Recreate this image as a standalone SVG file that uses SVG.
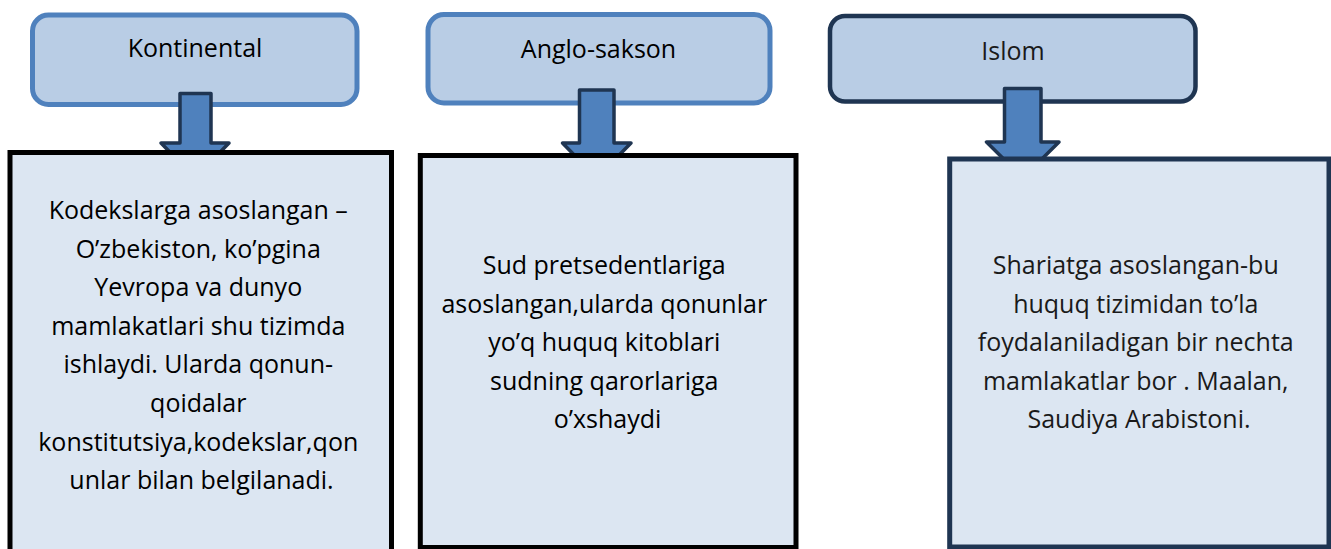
<svg xmlns="http://www.w3.org/2000/svg" width="1331" height="549" viewBox="0 0 1331 549">
<style>
.bg{fill:#ffffff}
.head{fill:#B9CDE5;stroke:#4F81BD;stroke-width:5}
.head.dark{stroke:#1F3552;stroke-width:4.5}
.arrow{fill:#4F81BD;stroke:#1F3552;stroke-width:3.5;stroke-linejoin:round}
.body{fill:#DCE6F2;stroke:#000000;stroke-width:5}
.body.dark{stroke:#1F3552}
text{font-family:"Open Sans","Noto Sans",sans-serif;font-size:25px;fill:#000000;text-anchor:middle}
.t3{fill:#1a1a1a}
</style>
<rect class="bg" x="0" y="0" width="1331" height="549"/>
<g id="node-kontinental">
<rect class="head" x="32.5" y="15" width="324.5" height="89.5" rx="16"/>
<text x="195" y="57">Kontinental</text>
</g>
<g id="node-anglo-sakson">
<rect class="head" x="428" y="14.5" width="342" height="88.5" rx="16"/>
<text x="598.5" y="58">Anglo-sakson</text>
</g>
<g id="node-islom">
<rect class="head dark" x="830" y="16" width="365.5" height="85.5" rx="15"/>
<text class="t3" x="1013" y="60">Islom</text>
</g>
<g id="connectors">
<path class="arrow" d="M180,93.5 H211 V143 H229 L195,178 L161,143 H180 Z"/>
<path class="arrow" d="M579.5,90 H614 V143 H631 L596.7,178 L562.5,143 H579.5 Z"/>
<path class="arrow" d="M1004.5,88.5 H1041 V142 H1059 L1022.7,178 L986.5,142 H1004.5 Z"/>
</g>
<g id="node-kontinental-desc">
<rect class="body" x="10" y="152.5" width="381.5" height="410"/>
<text x="201.5">
<tspan x="201.5" y="219">Kodekslarga asoslangan –</tspan>
<tspan x="201.5" y="257.6">O’zbekiston, ko’pgina</tspan>
<tspan x="201.5" y="296.2">Yevropa va dunyo</tspan>
<tspan x="201.5" y="334.8">mamlakatlari shu tizimda</tspan>
<tspan x="201.5" y="373.4">ishlaydi. Ularda qonun-</tspan>
<tspan x="201.5" y="412">qoidalar</tspan>
<tspan x="201.5" y="450.6">konstitutsiya,kodekslar,qon</tspan>
<tspan x="201.5" y="489.2">unlar bilan belgilanadi.</tspan>
</text>
</g>
<g id="node-anglo-sakson-desc">
<rect class="body" x="420.3" y="155.5" width="375.7" height="392"/>
<text x="607.5">
<tspan x="607.5" y="274">Sud pretsedentlariga</tspan>
<tspan x="607.5" y="312.5">asoslangan,ularda qonunlar</tspan>
<tspan x="607.5" y="351">yo’q huquq kitoblari</tspan>
<tspan x="607.5" y="389.5">sudning qarorlariga</tspan>
<tspan x="607.5" y="428">o’xshaydi</tspan>
</text>
</g>
<g id="node-islom-desc">
<rect class="body dark" x="949.7" y="159" width="379.3" height="388"/>
<text class="t3" x="1139">
<tspan x="1139" y="274">Shariatga asoslangan-bu</tspan>
<tspan x="1139" y="312.5">huquq tizimidan to’la</tspan>
<tspan x="1139" y="351">foydalaniladigan bir nechta</tspan>
<tspan x="1139" y="389.5">mamlakatlar bor . Maalan,</tspan>
<tspan x="1139" y="428">Saudiya Arabistoni.</tspan>
</text>
</g>
</svg>
